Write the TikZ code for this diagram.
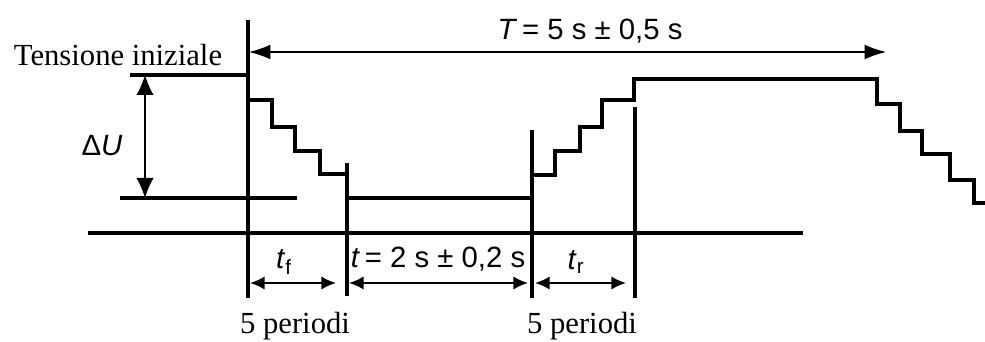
\documentclass[tikz,border=0pt]{standalone}
\usepackage{fontspec}
\setmainfont{Liberation Serif}
\setsansfont{Liberation Sans}
\usetikzlibrary{arrows.meta}
\begin{document}
\begin{tikzpicture}[x=0.75pt,y=-0.75pt,
  thickline/.style={line width=2.3pt},
  sigline/.style={line width=2.3pt,line join=miter},
  thinarrow/.style={line width=0.9pt,{Latex[length=16pt,width=11pt]}-{Latex[length=16pt,width=11pt]}},
  vdimarrow/.style={line width=0.9pt,{Latex[length=15pt,width=13pt]}-{Latex[length=15pt,width=13pt]}},
  dimarrow/.style={line width=1.5pt,{Latex[length=11pt,width=10pt]}-{Latex[length=11pt,width=10pt]}},
  serif/.style={font=\fontsize{23}{26}\selectfont, inner sep=0pt},
  sans/.style={font=\sffamily\fontsize{22}{25}\selectfont, inner sep=0pt}]
\useasboundingbox (0,0) rectangle (985,342);
% coordinates
\coordinate (v1top) at (248,20);  \coordinate (v1bot) at (248,298);
\coordinate (v2top) at (347,163); \coordinate (v2bot) at (347,296);
\coordinate (v3top) at (532,130); \coordinate (v3bot) at (532,298);
\coordinate (v4top) at (635,107); \coordinate (v4bot) at (635,298);
\coordinate (baseL) at (88,233);  \coordinate (baseR) at (803,233);
\coordinate (initL) at (130,75);  \coordinate (initR) at (248,75);
\coordinate (lowL) at (120,198);  \coordinate (lowR) at (297,198);
\coordinate (Tl) at (249,52);     \coordinate (Tr) at (886,52);
\coordinate (dUt) at (145,75);    \coordinate (dUb) at (145,198);
\coordinate (tfl) at (250,283);   \coordinate (tfr) at (336,283);
\coordinate (tl) at (349,283);    \coordinate (tr) at (528,283);
\coordinate (trl) at (535,283);   \coordinate (trr) at (626,283);
% frame lines
\draw[thickline] (v1top) -- (v1bot);
\draw[thickline] (v2top) -- (v2bot);
\draw[thickline] (v3top) -- (v3bot);
\draw[thickline] (v4top) -- (v4bot);
\draw[thickline] (baseL) -- (baseR);
\draw[thickline] (initL) -- (initR);
\draw[thickline] (lowL) -- (lowR);
% waveform
\draw[sigline] (248,100) -- (272,100) -- (272,127) -- (295,127) -- (295,151) -- (320,151) -- (320,174) -- (347,174) -- (347,198) -- (532,198) -- (532,175) -- (555,175) -- (555,151) -- (580,151) -- (580,127) -- (602,127) -- (602,100) -- (634,100) -- (634,79) -- (877,79) -- (877,104) -- (900,104) -- (900,131) -- (922,131) -- (922,154) -- (950,154) -- (950,180) -- (974,180) -- (974,203) -- (986,203);
% dimension arrows
\draw[thinarrow] (Tl) -- (Tr);
\draw[vdimarrow] (dUt) -- (dUb);
\draw[dimarrow] (tfl) -- (tfr);
\draw[dimarrow] (tl) -- (tr);
\draw[dimarrow] (trl) -- (trr);
% labels
\node[serif] (tens) at (118,55) {Tensione iniziale};
\node[sans] (Tlab) at (590,31) {\textit{T}\,= 5 s ± 0,5 s};
\node[sans] (dU) at (102,146) {Δ\textit{U}};
\node[sans] (tf) at (284,262) {\textit{t}\textsubscript{f}};
\node[sans] (tlab) at (438,259) {\textit{t}\,= 2 s ± 0,2 s};
\node[sans] (trlab) at (576,262) {\textit{t}\textsubscript{r}};
\node[serif] (p1) at (295,326) {5 periodi};
\node[serif] (p2) at (582,326) {5 periodi};
\end{tikzpicture}
\end{document}
